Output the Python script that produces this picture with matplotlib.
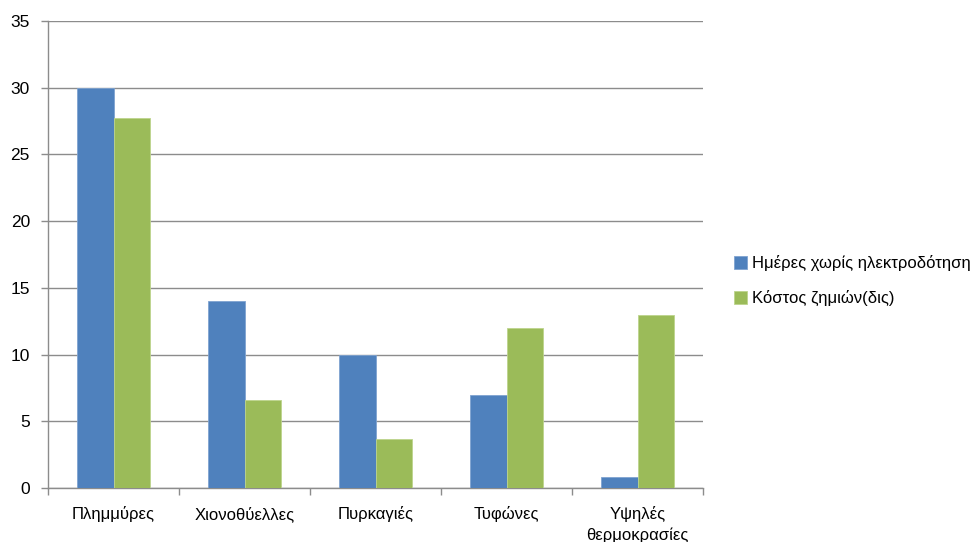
import matplotlib
matplotlib.use("Agg")
import matplotlib.pyplot as plt
import numpy as np

# categories and the two series
categories = ["Πλημμύρες", "Χιονοθύελλες", "Πυρκαγιές", "Τυφώνες", "Υψηλές\nθερμοκρασίες"]
days_no_power = [30, 14, 10, 7, 0.8]
damage_cost = [27.7, 6.6, 3.7, 12, 13]
series_names = ["Ημέρες χωρίς ηλεκτροδότηση", "Κόστος ζημιών(δις)"]
yticks = [0, 5, 10, 15, 20, 25, 30, 35]

plt.rcParams['font.family'] = ['Liberation Sans', 'DejaVu Sans']

fig = plt.figure(figsize=(9.74, 5.42), dpi=100)
ax = fig.add_axes([0.0493, 0.0996, 0.6725, 0.8617])

x = np.arange(len(categories))
w = 0.28
ax.bar(x - w / 2, days_no_power, w, color='#4F81BD', edgecolor='#7FA3D0', linewidth=0.6,
       label=series_names[0], zorder=3)
ax.bar(x + w / 2, damage_cost, w, color='#9BBB59', edgecolor='#BDD48C', linewidth=0.6,
       label=series_names[1], zorder=3)

ax.set_xlim(-0.5, len(categories) - 0.5)
ax.set_ylim(0, 35)
ax.set_yticks(yticks)
ax.yaxis.grid(True, color='#8C8C8C', linewidth=1.0, zorder=0)
ax.set_axisbelow(True)

# category labels sit between the boundary tick marks
ax.set_xticks(x)
ax.set_xticklabels(categories, fontsize=12, linespacing=1.45)
ax.set_xticks(np.arange(len(categories) + 1) - 0.5, minor=True)
ax.tick_params(axis='x', which='major', length=0, pad=13)
ax.tick_params(axis='x', which='minor', length=5, color='#8C8C8C', width=1.0, direction='out')
ax.tick_params(axis='y', length=5, color='#8C8C8C', width=1.0, labelsize=12.5, pad=8)

for side in ('top', 'right'):
    ax.spines[side].set_visible(False)
for side in ('left', 'bottom'):
    ax.spines[side].set_color('#8C8C8C')
    ax.spines[side].set_linewidth(1.0)

fig.legend(loc='center left', bbox_to_anchor=(0.738, 0.482), frameon=False,
           fontsize=12, handlelength=0.8, handleheight=0.8, handletextpad=0.3,
           labelspacing=1.15)

fig.savefig("out.png", dpi=100)
